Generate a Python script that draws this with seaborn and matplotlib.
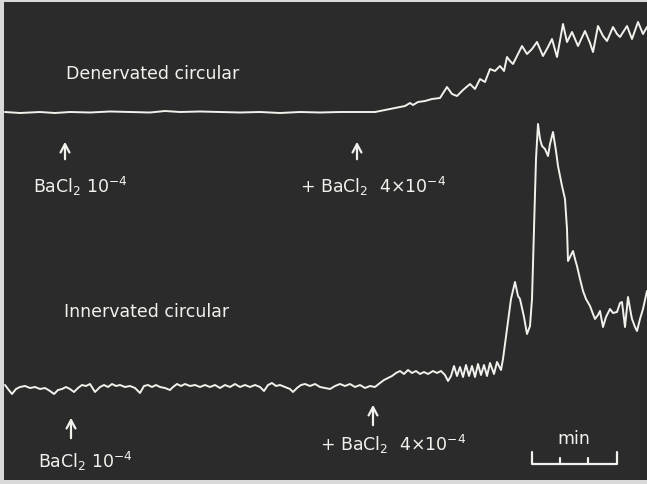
import matplotlib
matplotlib.use("Agg")
import matplotlib.pyplot as plt
import seaborn as sns
import pandas as pd

# ---- data (trace positions, in image units) ----
den_x = [5, 20, 40, 55, 70, 90, 110, 130, 150, 165, 180, 200, 220, 240, 260, 280, 300, 320,
         340, 360, 375, 385, 395, 405, 410, 413, 418, 425, 432, 440, 447, 452, 457, 463, 470,
         475, 480, 485, 490, 495, 500, 504, 507, 510, 513, 518, 522, 527, 532, 537, 543, 548,
         552, 557, 563, 567, 572, 578, 585, 590, 593, 598, 603, 607, 613, 617, 620, 627, 632,
         638, 643, 647]
den_y = [113, 114, 113, 114, 113, 113.5, 112.5, 113, 113.5, 112, 113, 112.5, 113, 113.5, 113,
         114, 113, 113.5, 113, 113, 113, 111, 109, 107, 104, 106, 103, 102, 100, 99, 88, 95, 97,
         91, 85, 90, 80, 83, 70, 72, 67, 72, 58, 62, 65, 55, 47, 55, 50, 43, 57, 48, 40, 58, 25,
         43, 33, 47, 32, 44, 53, 27, 37, 42, 28, 35, 38, 27, 40, 23, 35, 28]

inn_x = [5, 8, 12, 16, 20, 25, 30, 35, 40, 45, 50, 54, 58, 62, 66, 70, 74, 78, 82, 86, 90, 95,
         100, 104, 108, 112, 116, 120, 125, 130, 135, 140, 144, 148, 152, 156, 160, 165, 170,
         173, 177, 181, 185, 190, 195, 200, 205, 210, 215, 220, 225, 230, 235, 240, 245, 250,
         255, 260, 264, 268, 272, 276, 280, 285, 290, 293, 297, 301, 305, 310, 315, 320, 325,
         330, 335, 340, 345, 350, 355, 360, 365, 370, 375, 380, 384, 388, 392, 396, 400, 404,
         408, 412, 416, 420, 424, 428, 433, 437, 441, 445, 448, 451, 454, 457, 460, 463, 466,
         469, 472, 475, 478, 481, 484, 487, 490, 494, 497, 501, 503, 507, 511, 515, 518, 520,
         524, 527, 530, 532, 534, 536, 538, 540, 542, 545, 548, 550, 553, 556, 558, 562, 565,
         567, 568, 570, 573, 575, 577, 580, 583, 586, 590, 593, 595, 598, 600, 603, 606, 610,
         613, 617, 620, 622, 625, 628, 631, 632, 635, 637, 640, 643, 647]
inn_y = [386, 390, 395, 390, 388, 387, 389, 388, 390, 389, 392, 395, 391, 390, 388, 390, 393,
         389, 386, 387, 385, 393, 388, 386, 388, 385, 387, 386, 388, 387, 389, 394, 387, 386,
         388, 386, 388, 389, 391, 388, 385, 387, 385, 387, 386, 388, 386, 388, 386, 389, 386,
         388, 385, 388, 386, 388, 386, 388, 392, 386, 384, 387, 386, 388, 390, 393, 389, 386,
         385, 387, 385, 388, 389, 390, 387, 385, 387, 385, 388, 386, 389, 387, 388, 384, 381,
         379, 377, 374, 372, 375, 371, 374, 372, 375, 373, 375, 372, 374, 372, 376, 382, 377,
         367, 377, 368, 378, 366, 377, 367, 378, 365, 376, 366, 377, 364, 375, 363, 371, 360,
         330, 300, 283, 297, 300, 318, 335, 327, 300, 230, 160, 125, 140, 147, 150, 157, 145,
         133, 152, 167, 187, 200, 230, 262, 258, 252, 260, 267, 280, 292, 300, 307, 315, 320,
         316, 312, 328, 318, 310, 314, 313, 304, 303, 328, 298, 315, 320, 328, 332, 320, 310,
         292]

trace_names = ["Denervated circular", "Innervated circular"]
dose_labels = ["BaCl$_2$ 10$^{-4}$", "+ BaCl$_2$  4$\\times$10$^{-4}$"]
scale_label = "min"

# ---- style ----
sns.set_style("dark")
plt.rcParams["font.family"] = ["DejaVu Sans"]
plt.rcParams["mathtext.fontset"] = "dejavusans"
plt.rcParams["mathtext.default"] = "regular"

BG = "#2b2b2b"
FG = "#f2f2ec"

fig = plt.figure(figsize=(6.47, 4.85), dpi=100, facecolor="#d9d9d9")
ax = fig.add_axes([4 / 647, 4 / 485, 643 / 647, 478 / 485])
ax.set_facecolor(BG)

df_den = pd.DataFrame({"t": den_x, "v": den_y})
df_inn = pd.DataFrame({"t": inn_x, "v": inn_y})
sns.lineplot(data=df_den, x="t", y="v", ax=ax, color=FG, lw=1.4, sort=False)
sns.lineplot(data=df_inn, x="t", y="v", ax=ax, color=FG, lw=1.4, sort=False)

ax.set_xlim(4, 647)
ax.set_ylim(481, 3)
ax.set_xticks([])
ax.set_yticks([])
ax.set_xlabel("")
ax.set_ylabel("")
for s in ax.spines.values():
    s.set_visible(False)

fs = 12.5
ax.text(66, 74, trace_names[0], color=FG, fontsize=fs, va="center", ha="left")
ax.text(64, 312, trace_names[1], color=FG, fontsize=fs, va="center", ha="left")

arrow_kw = dict(arrowstyle="->,head_length=0.6,head_width=0.32", color=FG, lw=1.6)

def mark(xa, y0, y1, label, lx, ly):
    ax.annotate("", xy=(xa, y1), xytext=(xa, y0), arrowprops=arrow_kw)
    ax.text(lx, ly, label, color=FG, fontsize=fs, va="center", ha="left")

mark(65, 163, 140, dose_labels[0], 33, 186)
mark(357, 163, 140, dose_labels[1], 300, 186)
mark(71, 442, 416, dose_labels[0], 38, 461)
mark(373, 429, 403, dose_labels[1], 320, 444)

# time scale bar
ax.text(574, 439, scale_label, color=FG, fontsize=fs, va="center", ha="center")
ax.plot([532, 617], [465, 465], color=FG, lw=1.6, solid_capstyle="butt")
ax.plot([532, 532], [453, 465], color=FG, lw=1.6)
ax.plot([617, 617], [453, 465], color=FG, lw=1.6)
ax.plot([560, 560], [459, 465], color=FG, lw=1.6)
ax.plot([588, 588], [459, 465], color=FG, lw=1.6)

fig.savefig("out.png", dpi=100, facecolor=fig.get_facecolor())
